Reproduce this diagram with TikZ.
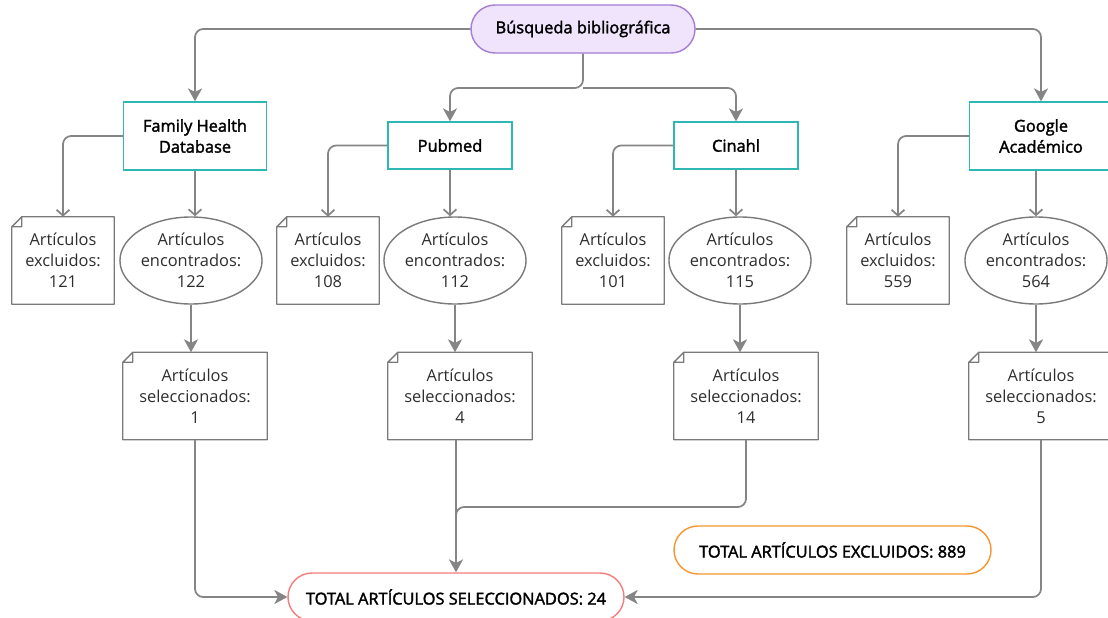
\documentclass[tikz,border=0pt]{standalone}
\usepackage{fontspec}
\setmainfont{Open Sans}
\newfontfamily\headfont[FakeBold=2]{Open Sans}
\usepackage{tikz}
\usetikzlibrary{arrows.meta, shapes.geometric, shapes.misc}

\definecolor{linegray}{HTML}{858585}
\definecolor{boxgray}{HTML}{7A7A7A}
\definecolor{tealline}{HTML}{2FB8B3}
\definecolor{lilacfill}{HTML}{F0E3FC}
\definecolor{lilacline}{HTML}{A57CD6}
\definecolor{redline}{HTML}{F47C7C}
\definecolor{orangeline}{HTML}{F7962E}
\definecolor{textgray}{HTML}{2E2E2E}

\begin{document}
\begin{tikzpicture}[x=0.03cm, y=-0.03cm,
    every node/.style={font=\fontsize{14}{17.9}\selectfont, text=textgray, align=center, inner sep=0pt},
    base/.style={draw=tealline, line width=1.2pt, fill=white, font=\fontsize{14}{17.9}\selectfont\headfont, text=black},
    start/.style={base, rounded rectangle, draw=lilacline, fill=lilacfill, minimum width=6.72cm, minimum height=1.44cm},
    exclbox/.style={minimum width=3.06cm, minimum height=2.61cm},
    selbox/.style={minimum width=4.32cm, minimum height=2.61cm},
    found/.style={ellipse, draw=boxgray, line width=1.2pt, fill=white, minimum width=4.02cm, minimum height=2.61cm},
    total/.style={rounded rectangle, line width=1.2pt, fill=white, minimum height=1.44cm, font=\fontsize{14}{17.9}\selectfont\headfont, text=black},
    link/.style={draw=linegray, line width=1.5pt, rounded corners=7pt},
    vtip/.style={-{Straight Barb[length=5pt, width=11pt]}},
    ftip/.style={-{Stealth[length=11pt, width=12pt, inset=3pt]}}
  ]
    \useasboundingbox (0,0) rectangle (1108,618);

    % search and databases
    \node[start] (busq) at (583,29) {Búsqueda bibliográfica};
    \node[base, minimum width=4.29cm, minimum height=2.04cm] (fhd) at (195,136) {Family Health\\Database};
    \node[base, minimum width=3.72cm, minimum height=1.41cm] (pub) at (450,145.5) {Pubmed};
    \node[base, minimum width=3.72cm, minimum height=1.41cm] (cin) at (736,145.5) {Cinahl};
    \node[base, minimum width=4.29cm, minimum height=2.04cm] (goo) at (1041,136) {Google\\Académico};

    % excluded and found
    \node[exclbox] (exF) at (63,260.5) {Artículos\\excluidos:\\121};
    \node[found] (enF) at (191,260.5) {Artículos\\encontrados:\\122};
    \node[exclbox] (exP) at (328,260.5) {Artículos\\excluidos:\\108};
    \node[found] (enP) at (455,260.5) {Artículos\\encontrados:\\112};
    \node[exclbox] (exC) at (613,260.5) {Artículos\\excluidos:\\101};
    \node[found] (enC) at (740,260.5) {Artículos\\encontrados:\\115};
    \node[exclbox] (exG) at (898,260.5) {Artículos\\excluidos:\\559};
    \node[found] (enG) at (1036,260.5) {Artículos\\encontrados:\\564};

    % selected
    \node[selbox] (seF) at (195,396) {Artículos\\seleccionados:\\1};
    \node[selbox] (seP) at (460,396) {Artículos\\seleccionados:\\4};
    \node[selbox] (seC) at (746,396) {Artículos\\seleccionados:\\14};
    \node[selbox] (seG) at (1041,396) {Artículos\\seleccionados:\\5};

    % totals
    \node[total, draw=redline, minimum width=10.08cm] (totsel) at (456,597) {TOTAL ARTÍCULOS SELECCIONADOS: 24};
    \node[total, draw=orangeline, minimum width=9.51cm] (totexc) at (832.5,550) {TOTAL ARTÍCULOS EXCLUIDOS: 889};

    % note outlines with folded corner
    \foreach \n in {exF,exP,exC,exG,seF,seP,seC,seG}
        \draw[boxgray, line width=1.2pt, line join=round]
            ([xshift=0.3cm]\n.north west) -- (\n.north east) -- (\n.south east) -- (\n.south west)
            -- ([yshift=-0.3cm]\n.north west) -- cycle
            ([yshift=-0.3cm]\n.north west) -- ++(0.3cm,0) -- ++(0,0.3cm);

    % connectors
    \coordinate (split) at (583,88);
    \coordinate (merge) at (456,507);
    \draw[link, ftip] (busq) -| (fhd);
    \draw[link, ftip] (busq) -| (goo);
    \draw[link, ftip] (busq) -- (split) -| (pub);
    \draw[link, ftip] (split) -| (cin);

    \draw[link, vtip] (fhd) -| (exF);
    \draw[link, vtip] (pub) -| (exP);
    \draw[link, vtip] (cin) -| (exC);
    \draw[link, vtip] (goo) -| (exG);
    \draw[link, vtip] (fhd.south) -- (fhd.south |- enF.north);
    \draw[link, vtip] (pub.south) -- (pub.south |- enP.north);
    \draw[link, vtip] (cin.south) -- (cin.south |- enC.north);
    \draw[link, vtip] (enG.north |- goo.south) -- (enG.north);

    \draw[link, ftip] (enF.south) -- (enF.south |- seF.north);
    \draw[link, ftip] (enP.south) -- (enP.south |- seP.north);
    \draw[link, ftip] (enC.south) -- (enC.south |- seC.north);
    \draw[link, ftip] (enG.south) -- (enG.south |- seG.north);

    \draw[link, ftip] (seF) |- (totsel);
    \draw[link, ftip] (seG) |- (totsel);
    \draw[link, ftip] (seP.south -| totsel.north) -- (totsel.north);
    \draw[link] (seC.south) |- (merge) -- ([yshift=-0.6cm]merge);
\end{tikzpicture}
\end{document}
